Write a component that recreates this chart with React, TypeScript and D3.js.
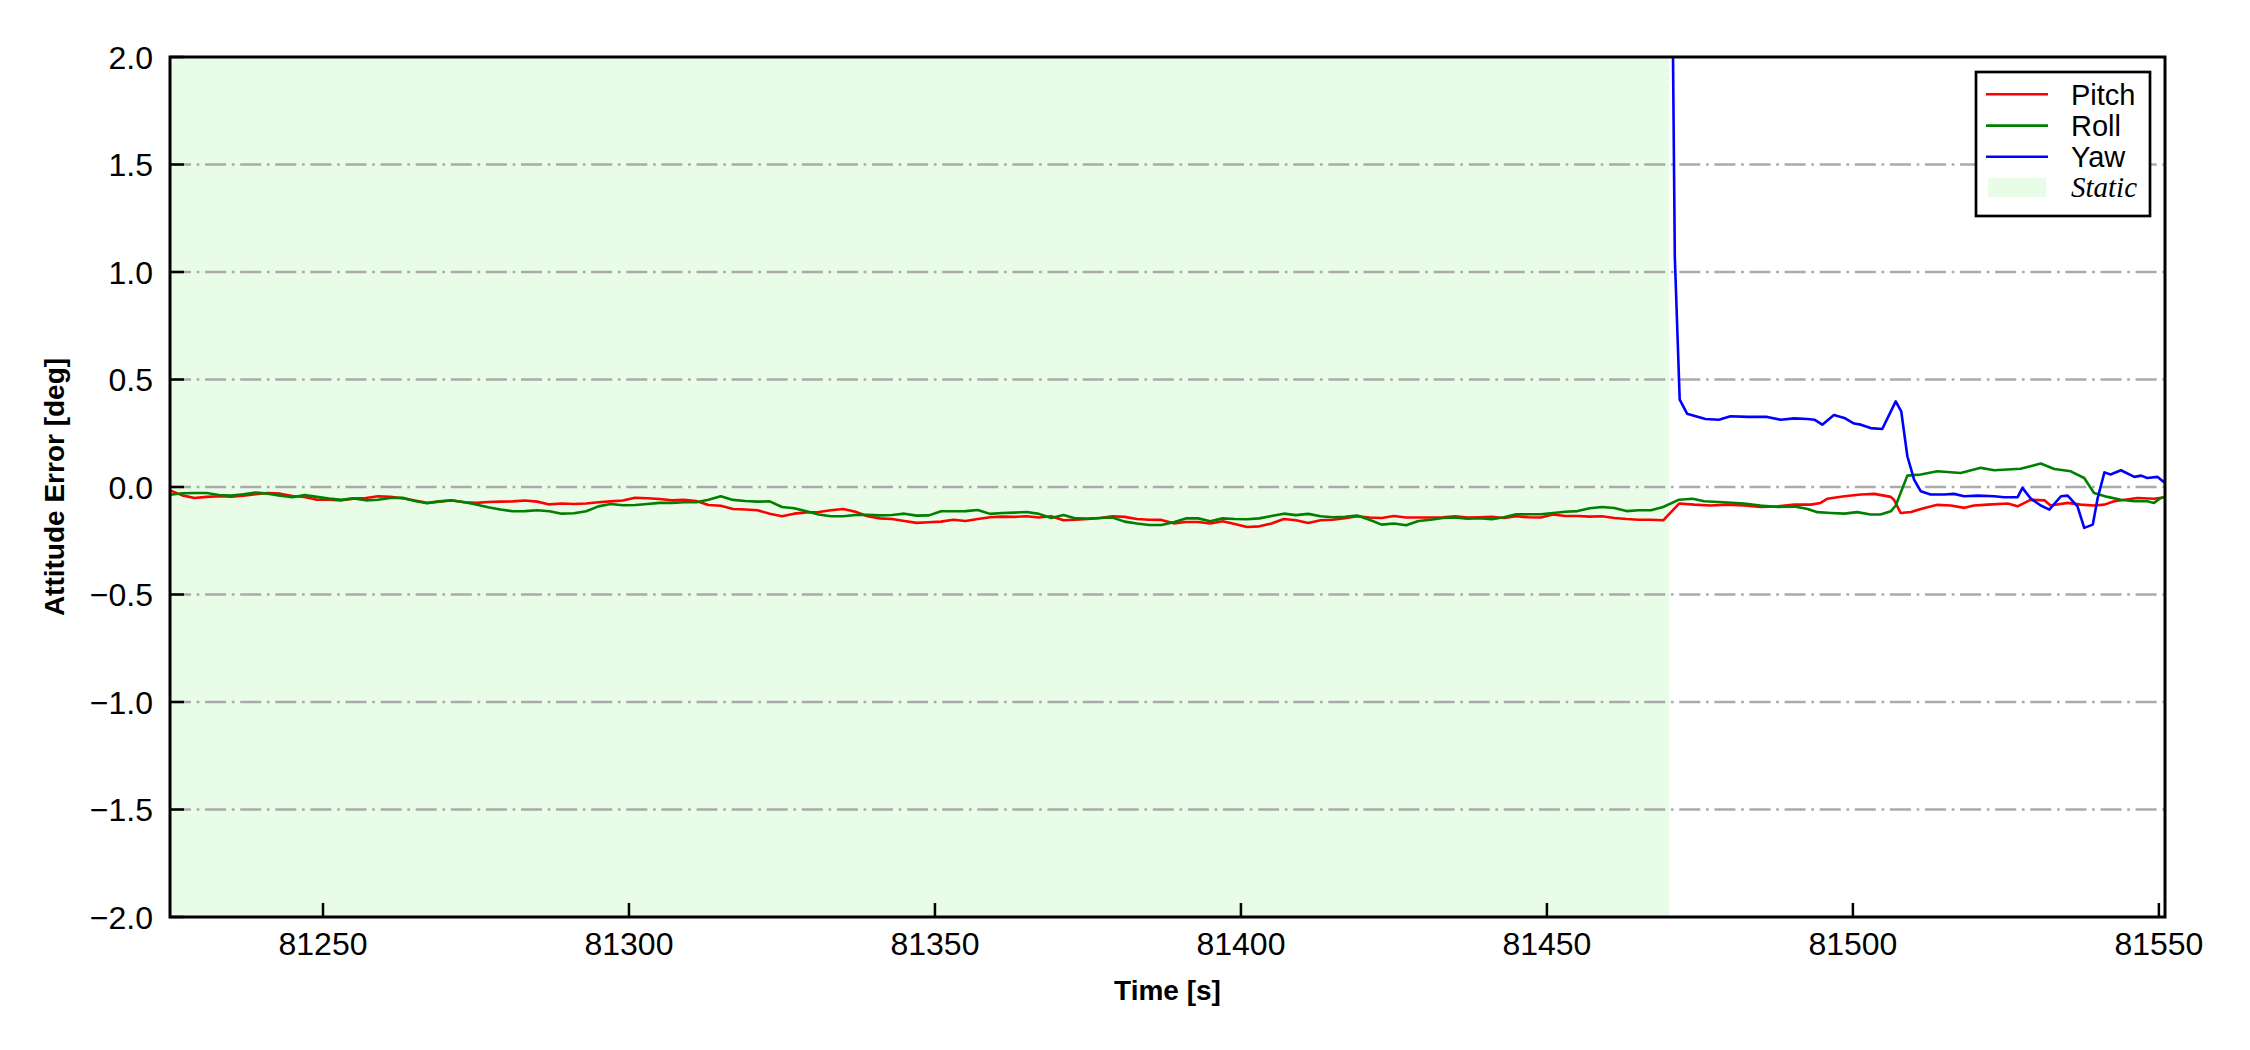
import React from "react";
import * as d3 from "d3";

const staticTimes = [81225,81227,81229,81231,81233,81235,81237,81239,81241,81243,81245,81247,81249,81251,81253,81255,81257,81259,81261,81263,81265,81267,81269,81271,81273,81275,81277,81279,81281,81283,81285,81287,81289,81291,81293,81295,81297,81299,81301,81303,81305,81307,81309,81311,81313,81315,81317,81319,81321,81323,81325,81327,81329,81331,81333,81335,81337,81339,81341,81343,81345,81347,81349,81351,81353,81355,81357,81359,81361,81363,81365,81367,81369,81371,81373,81375,81377,81379,81381,81383,81385,81387,81389,81391,81393,81395,81397,81399,81401,81403,81405,81407,81409,81411,81413,81415,81417,81419,81421,81423,81425,81427,81429,81431,81433,81435,81437,81439,81441,81443,81445,81447,81449,81451,81453,81455,81457,81459,81461,81463,81465,81467,81469];

const pitchStatic = [-0.016,-0.039,-0.051,-0.046,-0.043,-0.045,-0.040,-0.034,-0.028,-0.031,-0.042,-0.046,-0.059,-0.059,-0.062,-0.054,-0.051,-0.043,-0.046,-0.052,-0.063,-0.073,-0.068,-0.062,-0.071,-0.074,-0.070,-0.068,-0.067,-0.063,-0.068,-0.081,-0.077,-0.079,-0.077,-0.071,-0.067,-0.063,-0.050,-0.052,-0.056,-0.062,-0.059,-0.065,-0.084,-0.087,-0.102,-0.105,-0.108,-0.124,-0.136,-0.124,-0.118,-0.116,-0.108,-0.102,-0.115,-0.136,-0.146,-0.149,-0.158,-0.167,-0.164,-0.161,-0.152,-0.158,-0.149,-0.141,-0.138,-0.139,-0.136,-0.142,-0.136,-0.155,-0.152,-0.149,-0.144,-0.136,-0.139,-0.149,-0.152,-0.153,-0.169,-0.163,-0.163,-0.170,-0.159,-0.172,-0.186,-0.183,-0.170,-0.149,-0.155,-0.167,-0.155,-0.152,-0.145,-0.136,-0.142,-0.144,-0.135,-0.142,-0.142,-0.142,-0.141,-0.136,-0.142,-0.141,-0.139,-0.144,-0.136,-0.141,-0.142,-0.128,-0.135,-0.135,-0.138,-0.136,-0.144,-0.149,-0.152,-0.152,-0.155];

const rollStatic = [-0.036,-0.029,-0.028,-0.028,-0.037,-0.040,-0.034,-0.026,-0.031,-0.040,-0.048,-0.037,-0.046,-0.054,-0.060,-0.053,-0.062,-0.059,-0.051,-0.050,-0.065,-0.076,-0.067,-0.063,-0.070,-0.081,-0.094,-0.105,-0.113,-0.112,-0.108,-0.113,-0.124,-0.122,-0.113,-0.090,-0.079,-0.085,-0.084,-0.079,-0.074,-0.074,-0.071,-0.071,-0.059,-0.043,-0.060,-0.065,-0.068,-0.067,-0.093,-0.099,-0.113,-0.128,-0.136,-0.136,-0.130,-0.129,-0.132,-0.130,-0.124,-0.133,-0.132,-0.113,-0.113,-0.112,-0.107,-0.125,-0.121,-0.119,-0.116,-0.125,-0.144,-0.130,-0.146,-0.147,-0.144,-0.142,-0.161,-0.170,-0.177,-0.177,-0.164,-0.146,-0.146,-0.159,-0.146,-0.149,-0.150,-0.146,-0.135,-0.124,-0.131,-0.125,-0.136,-0.141,-0.139,-0.133,-0.152,-0.175,-0.170,-0.178,-0.158,-0.152,-0.144,-0.142,-0.147,-0.145,-0.150,-0.141,-0.127,-0.127,-0.127,-0.121,-0.115,-0.112,-0.099,-0.093,-0.098,-0.112,-0.108,-0.108,-0.093];

const pitchMoveTimes = [81471.6,81474.0,81476.8,81479.5,81482.2,81484.9,81487.7,81490.4,81493.1,81494.7,81495.8,81498.6,81501.3,81503.5,81506.2,81506.7,81507.8,81509.5,81511.1,81513.8,81516.0,81518.2,81519.8,81522.0,81525.3,81526.9,81529.1,81531.3,81532.3,81535.1,81537.2,81539.4,81541.1,81542.7,81546.5,81549.2,81551.0];
const pitchMove = [-0.077,-0.082,-0.086,-0.082,-0.086,-0.093,-0.090,-0.082,-0.082,-0.074,-0.055,-0.043,-0.035,-0.032,-0.046,-0.059,-0.121,-0.116,-0.102,-0.083,-0.086,-0.097,-0.086,-0.082,-0.077,-0.090,-0.059,-0.062,-0.086,-0.074,-0.082,-0.086,-0.082,-0.066,-0.051,-0.055,-0.048];

const rollMoveTimes = [81471.6,81473.8,81475.7,81478.9,81482.2,81484.9,81487.7,81490.4,81492.6,81494.2,81496.4,81498.6,81500.7,81502.9,81504.5,81506.2,81507.0,81508.9,81511.1,81513.8,81517.6,81520.9,81523.1,81527.4,81530.7,81532.9,81535.6,81537.8,81539.4,81541.6,81543.8,81546.0,81548.1,81549.2,81550.3,81551.0];
const rollMove = [-0.059,-0.055,-0.066,-0.071,-0.077,-0.086,-0.093,-0.090,-0.102,-0.117,-0.121,-0.124,-0.117,-0.128,-0.128,-0.113,-0.086,0.053,0.058,0.073,0.065,0.089,0.078,0.085,0.109,0.084,0.073,0.042,-0.028,-0.046,-0.059,-0.066,-0.066,-0.074,-0.051,-0.048];

const yawTimes = [81470.0,81470.9,81471.7,81472.9,81475.9,81478.1,81480.0,81482.8,81486.0,81488.2,81490.4,81492.6,81493.7,81495.0,81496.9,81498.6,81500.2,81501.3,81502.9,81504.8,81506.2,81507.0,81507.9,81508.9,81510.0,81511.1,81512.7,81514.9,81516.5,81518.2,81520.4,81523.1,81524.7,81526.9,81527.7,81529.1,81530.7,81532.1,81534.0,81535.1,81536.7,81537.8,81539.2,81540.0,81541.1,81542.1,81543.8,81546.0,81547.1,81548.1,81549.8,81551.0];
const yawValues = [3.9,1.07,0.406,0.341,0.316,0.313,0.329,0.326,0.326,0.313,0.319,0.316,0.313,0.290,0.335,0.321,0.295,0.290,0.274,0.270,0.352,0.398,0.352,0.143,0.034,-0.020,-0.035,-0.035,-0.032,-0.043,-0.040,-0.043,-0.048,-0.048,-0.004,-0.055,-0.086,-0.105,-0.043,-0.040,-0.090,-0.190,-0.175,-0.051,0.068,0.058,0.078,0.047,0.053,0.042,0.047,0.019];

const xTicks = [81250, 81300, 81350, 81400, 81450, 81500, 81550];
const yTicks = [-2.0, -1.5, -1.0, -0.5, 0.0, 0.5, 1.0, 1.5, 2.0];
const xDomain = [81225, 81551];
const yDomain = [-2, 2];
const staticEnd = 81470;

const seriesNames = ["Pitch", "Roll", "Yaw"];
const seriesColors = ["#ff0000", "#008000", "#0000ff"];

const W = 2250, H = 1050;
const L = 170, R = 2165, T = 57, B = 917;

export default function App() {
  const x = d3.scaleLinear().domain(xDomain).range([L, R]);
  const y = d3.scaleLinear().domain(yDomain).range([B, T]);
  const fmt = d3.format(".1f");

  const pitch = [
    ...staticTimes.map((t, i) => [t, pitchStatic[i]]),
    ...pitchMoveTimes.map((t, i) => [t, pitchMove[i]]),
  ];
  const roll = [
    ...staticTimes.map((t, i) => [t, rollStatic[i]]),
    ...rollMoveTimes.map((t, i) => [t, rollMove[i]]),
  ];
  const yaw = yawTimes.map((t, i) => [t, yawValues[i]]);

  const line = d3.line<number[]>().x((d) => x(d[0])).y((d) => y(d[1]));
  const data = [pitch, roll, yaw];

  const font = "'Liberation Sans', Arial, sans-serif";
  const legX = 1976, legY = 72, legW = 174, legH = 144;
  const rowY = [94.3, 125.6, 156.7];

  return (
    <svg width={W} height={H} style={{ position: "absolute", left: 0, top: 0, background: "#fff" }} fontFamily={font}>
      <defs>
        <clipPath id="plotClip">
          <rect x={L} y={T} width={R - L} height={B - T} />
        </clipPath>
      </defs>
      <rect x={0} y={0} width={W} height={H} fill="#fff" />
      <rect x={x(xDomain[0])} y={T} width={x(staticEnd) - x(xDomain[0])} height={B - T} fill="#e8fce8" />
      {yTicks.filter((v) => v > yDomain[0] && v < yDomain[1]).map((v) => (
        <line key={"g" + v} x1={L} x2={R} y1={y(v)} y2={y(v)} stroke="#aaaaaa" strokeWidth={2.6} strokeDasharray="21,5.7,2.7,5.7" />
      ))}
      <g clipPath="url(#plotClip)">
        {data.map((d, i) => (
          <path key={i} d={line(d) || ""} fill="none" stroke={seriesColors[i]} strokeWidth={2.6} strokeLinejoin="round" />
        ))}
      </g>
      {xTicks.map((t) => (
        <g key={"x" + t}>
          <line x1={x(t)} x2={x(t)} y1={B} y2={B - 14} stroke="#000" strokeWidth={2.5} />
          <text x={x(t)} y={955} textAnchor="middle" fontSize={32} fill="#000">{t}</text>
        </g>
      ))}
      {yTicks.map((v) => (
        <g key={"y" + v}>
          <line x1={L} x2={L + 14} y1={y(v)} y2={y(v)} stroke="#000" strokeWidth={2.5} />
          <text x={153} y={y(v) + 11.5} textAnchor="end" fontSize={32} fill="#000">{fmt(v)}</text>
        </g>
      ))}
      <rect x={L} y={T} width={R - L} height={B - T} fill="none" stroke="#000" strokeWidth={3} />
      <text x={(L + R) / 2} y={1000} textAnchor="middle" fontSize={28} fontWeight="bold" fill="#000">Time [s]</text>
      <text transform={`translate(64,${(T + B) / 2}) rotate(-90)`} textAnchor="middle" fontSize={28} fontWeight="bold" fill="#000">Attitude Error [deg]</text>
      <g>
        <rect x={legX} y={legY} width={legW} height={legH} fill="#fff" stroke="#000" strokeWidth={2.7} />
        {seriesNames.map((n, i) => (
          <g key={n}>
            <line x1={1986} x2={2048} y1={rowY[i]} y2={rowY[i]} stroke={seriesColors[i]} strokeWidth={2.6} />
            <text x={2071} y={rowY[i] + 10.5} fontSize={29} fill="#000">{n}</text>
          </g>
        ))}
        <rect x={1988} y={178} width={58} height={19} fill="#e8fce8" />
        <text x={2071} y={197} fontSize={29} fontStyle="italic" fontFamily="'Liberation Serif', 'Times New Roman', serif" fill="#000">Static</text>
      </g>
    </svg>
  );
}
